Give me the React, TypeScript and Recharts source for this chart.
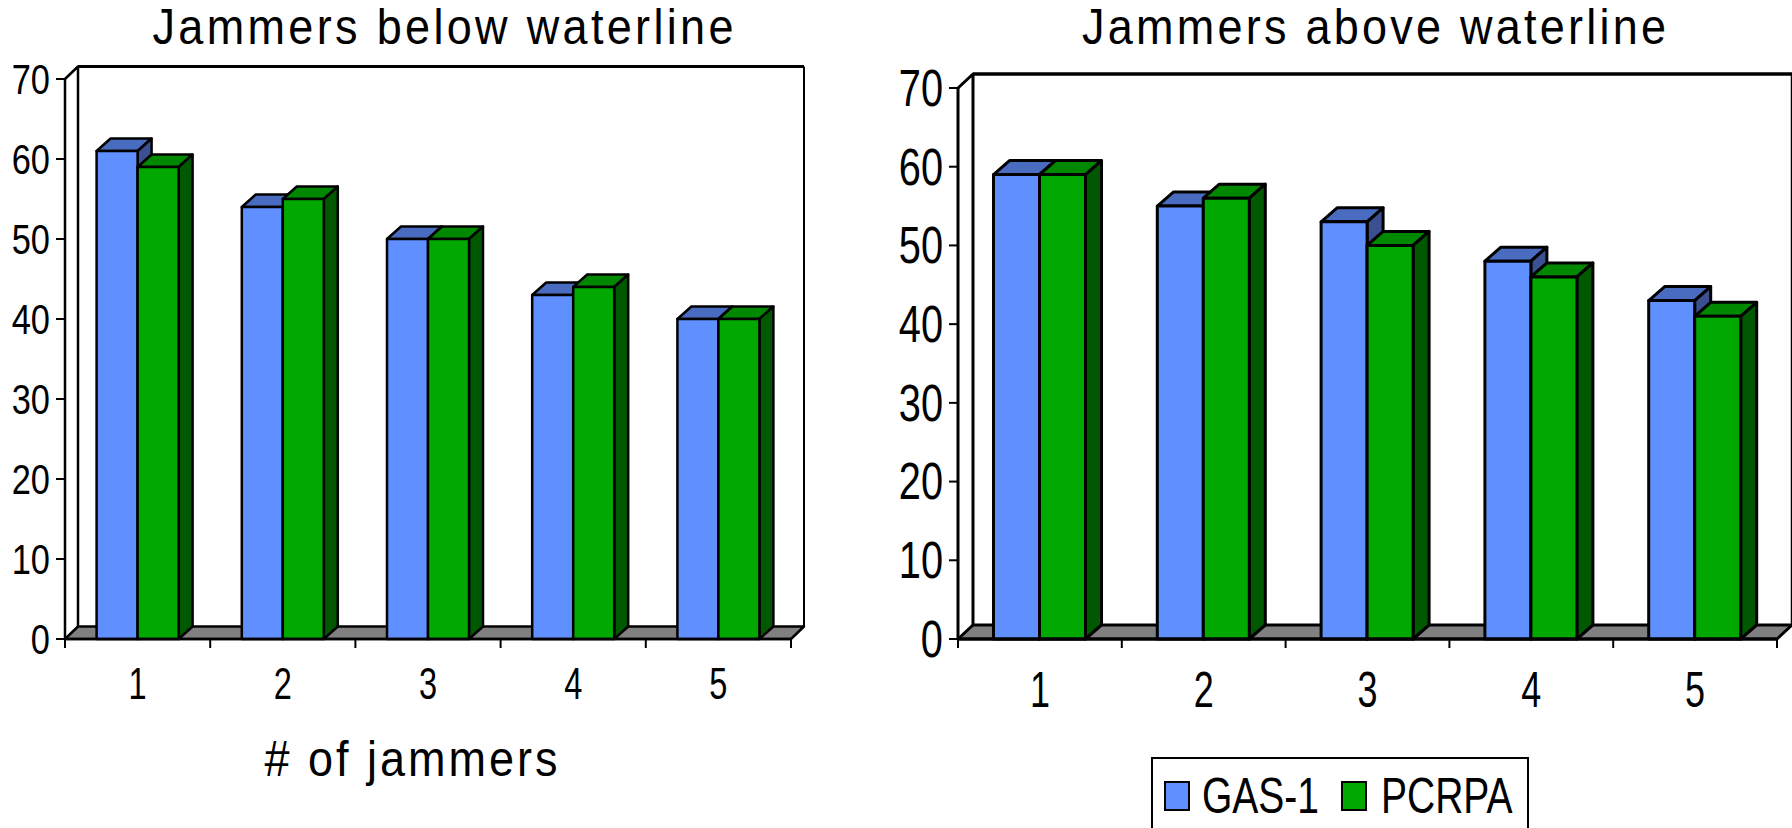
import { Bar, BarChart, Legend, XAxis, YAxis } from "recharts"

const categories = ["1", "2", "3", "4", "5"]
const yTicks = [0, 10, 20, 30, 40, 50, 60, 70]

const belowGas = [61, 54, 50, 43, 40]
const belowPcrpa = [59, 55, 50, 44, 40]
const aboveGas = [59, 55, 53, 48, 43]
const abovePcrpa = [59, 56, 50, 46, 41]

const GAS_COLORS = { front: "#6090ff", top: "#4a6cc0", side: "#3a5090" }
const PCRPA_COLORS = { front: "#00a800", top: "#008800", side: "#005800" }
const FONT = "'Liberation Sans', Arial, sans-serif"

const CHART_WIDTH = 896
const CHART_HEIGHT = 828
const TITLE_SCALE = 0.9

const buildRows = (gas: number[], pcrpa: number[]) =>
    categories.map((name, i) => ({ name, gas: gas[i], pcrpa: pcrpa[i] }))

interface PanelLayout {
    axisX: number
    endX: number
    zeroY: number
    topY: number
    depthX: number
    depthY: number
    barDepthX: number
    gap: number
    stroke: number
    yFont: number
    yScale: number
    xFont: number
    xScale: number
    xLabelY: number
}

// Extruded bar: front face plus the top and right-hand faces
function Box3D(props: any) {
    const { x, y, width, height, colors, depthX, depthY, stroke } = props
    const r = x + width
    const b = y + height
    return (
        <g stroke="#000" strokeWidth={stroke} strokeLinejoin="round">
            <polygon
                points={`${x},${y} ${x + depthX},${y - depthY} ${r + depthX},${y - depthY} ${r},${y}`}
                fill={colors.top}
            />
            <polygon
                points={`${r},${y} ${r + depthX},${y - depthY} ${r + depthX},${b - depthY} ${r},${b}`}
                fill={colors.side}
            />
            <rect x={x} y={y} width={width} height={height} fill={colors.front} />
        </g>
    )
}

// Back wall, left wall and grey floor behind the bars
function Backdrop({ p }: { p: PanelLayout }) {
    const { axisX: l, endX: r, zeroY: b, topY: t, depthX: dx, depthY: dy, stroke } = p
    return (
        <g stroke="#000" strokeWidth={stroke} strokeLinejoin="round">
            <polygon
                points={`${l},${b} ${l + dx},${b - dy} ${r + dx},${b - dy} ${r},${b}`}
                fill="#808080"
            />
            <polyline
                points={`${l},${t} ${l + dx},${t - dy} ${l + dx},${b - dy}`}
                fill="none"
            />
            <polyline
                points={`${l + dx},${t - dy} ${r + dx},${t - dy}`}
                fill="none"
                strokeWidth={stroke + 0.5}
            />
            <polyline
                points={`${r + dx},${t - dy} ${r + dx},${b - dy}`}
                fill="none"
                strokeWidth={stroke - 0.5}
            />
        </g>
    )
}

// Narrowed glyphs stretched back out with letter spacing
function SpacedText({ x, y, width, children }: any) {
    return (
        <text
            transform={`translate(${x},${y}) scale(${TITLE_SCALE},1)`}
            textAnchor="middle"
            fontFamily={FONT}
            fontSize={50}
            textLength={width / TITLE_SCALE}
            lengthAdjust="spacing"
            fill="#000"
        >
            {children}
        </text>
    )
}

function YTick({ x, y, payload, p }: any) {
    return (
        <text
            transform={`translate(${x},${y + p.yFont * 0.35}) scale(${p.yScale},1)`}
            textAnchor="end"
            fontFamily={FONT}
            fontSize={p.yFont}
            fill="#000"
        >
            {payload.value}
        </text>
    )
}

// Category label, with tick marks on the category boundaries rather than the centre
function XTick({ x, payload, index, p }: any) {
    const band = (p.endX - p.axisX) / categories.length
    const left = x - band / 2
    const right = x + band / 2
    return (
        <g>
            <line x1={left} x2={left} y1={p.zeroY} y2={p.zeroY + 9} stroke="#000" strokeWidth={2} />
            {index === categories.length - 1 && (
                <line x1={right} x2={right} y1={p.zeroY} y2={p.zeroY + 9} stroke="#000" strokeWidth={2} />
            )}
            <text
                transform={`translate(${x},${p.xLabelY}) scale(${p.xScale},1)`}
                textAnchor="middle"
                fontFamily={FONT}
                fontSize={p.xFont}
                fill="#000"
            >
                {payload.value}
            </text>
        </g>
    )
}

function LegendBox({ payload }: any) {
    return (
        <div
            style={{
                position: "relative",
                width: 378,
                height: 90,
                boxSizing: "border-box",
                border: "2px solid #000",
                background: "#fff",
                fontFamily: FONT,
                fontSize: 50,
                lineHeight: "46px",
            }}
        >
            {(payload ?? []).map((entry: any, i: number) => (
                <div key={entry.value}>
                    <span
                        style={{
                            position: "absolute",
                            left: i === 0 ? 11 : 188,
                            top: 22,
                            width: 26,
                            height: 30,
                            boxSizing: "border-box",
                            border: "2.5px solid #000",
                            background: entry.color,
                        }}
                    />
                    <span
                        style={{
                            position: "absolute",
                            left: i === 0 ? 49 : 228,
                            top: 14,
                            transform: "scaleX(0.78)",
                            transformOrigin: "left",
                            whiteSpace: "nowrap",
                        }}
                    >
                        {entry.value}
                    </span>
                </div>
            ))}
        </div>
    )
}

interface PanelProps {
    left: number
    title: string
    titleX: number
    titleWidth: number
    gas: number[]
    pcrpa: number[]
    p: PanelLayout
    xTitle?: string
    showLegend?: boolean
}

function Panel({ left, title, titleX, titleWidth, gas, pcrpa, p, xTitle, showLegend }: PanelProps) {
    return (
        <div style={{ position: "absolute", left, top: 0 }}>
            <BarChart
                width={CHART_WIDTH}
                height={CHART_HEIGHT}
                data={buildRows(gas, pcrpa)}
                margin={{ top: p.topY, right: CHART_WIDTH - p.endX, bottom: 0, left: 0 }}
                barCategoryGap={p.gap}
                barGap={0}
            >
                <SpacedText x={titleX} y={44} width={titleWidth}>
                    {title}
                </SpacedText>
                {xTitle && (
                    <SpacedText x={411} y={776} width={293}>
                        {xTitle}
                    </SpacedText>
                )}
                <Backdrop p={p} />
                <XAxis
                    dataKey="name"
                    height={CHART_HEIGHT - p.zeroY}
                    axisLine={{ stroke: "#000", strokeWidth: p.stroke }}
                    tickLine={false}
                    tick={(props: any) => <XTick {...props} p={p} />}
                    interval={0}
                />
                <YAxis
                    width={p.axisX}
                    domain={[0, 70]}
                    ticks={yTicks}
                    interval={0}
                    axisLine={{ stroke: "#000", strokeWidth: p.stroke }}
                    tickLine={{ stroke: "#000", strokeWidth: 2 }}
                    tickSize={9}
                    tickMargin={6}
                    tick={(props: any) => <YTick {...props} p={p} />}
                />
                <Bar
                    dataKey="gas"
                    name="GAS-1"
                    fill={GAS_COLORS.front}
                    isAnimationActive={false}
                    shape={(props: any) => (
                        <Box3D {...props} colors={GAS_COLORS} depthX={p.barDepthX} depthY={p.depthY} stroke={p.stroke} />
                    )}
                />
                <Bar
                    dataKey="pcrpa"
                    name="PCRPA"
                    fill={PCRPA_COLORS.front}
                    isAnimationActive={false}
                    shape={(props: any) => (
                        <Box3D {...props} colors={PCRPA_COLORS} depthX={p.barDepthX} depthY={p.depthY} stroke={p.stroke} />
                    )}
                />
                {showLegend && (
                    <Legend
                        layout="horizontal"
                        verticalAlign="middle"
                        align="center"
                        wrapperStyle={{ left: 255, top: 757, width: 378, height: 90, bottom: "auto" }}
                        content={(props: any) => <LegendBox payload={props.payload} />}
                    />
                )}
            </BarChart>
        </div>
    )
}

const belowLayout: PanelLayout = {
    axisX: 65,
    endX: 791,
    zeroY: 639,
    topY: 79,
    depthX: 13,
    depthY: 12.5,
    barDepthX: 14,
    gap: 31.6,
    stroke: 2.5,
    yFont: 43,
    yScale: 0.8,
    xFont: 44,
    xScale: 0.74,
    xLabelY: 699,
}

const aboveLayout: PanelLayout = {
    axisX: 62,
    endX: 881,
    zeroY: 639,
    topY: 88,
    depthX: 15,
    depthY: 14,
    barDepthX: 16,
    gap: 35.5,
    stroke: 3,
    yFont: 51,
    yScale: 0.78,
    xFont: 50,
    xScale: 0.72,
    xLabelY: 707,
}

export default function App() {
    return (
        <div
            style={{
                position: "absolute",
                left: 0,
                top: 0,
                width: 1792,
                height: CHART_HEIGHT,
                overflow: "hidden",
                background: "#fff",
            }}
        >
            <Panel
                left={0}
                title="Jammers below waterline"
                titleX={443}
                titleWidth={581}
                gas={belowGas}
                pcrpa={belowPcrpa}
                p={belowLayout}
                xTitle="# of jammers"
            />
            <Panel
                left={896}
                title="Jammers above waterline"
                titleX={478}
                titleWidth={584}
                gas={aboveGas}
                pcrpa={abovePcrpa}
                p={aboveLayout}
                showLegend
            />
        </div>
    )
}
